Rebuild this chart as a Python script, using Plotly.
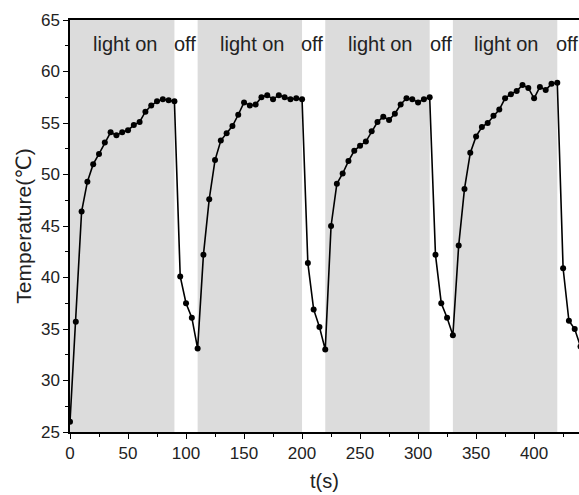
import plotly.graph_objects as go

# time (s) and temperature (°C)
t = [0, 5, 10, 15, 20, 25, 30, 35, 40, 45, 50, 55, 60, 65, 70, 75, 80, 85, 90,
     95, 100, 105, 110,
     115, 120, 125, 130, 135, 140, 145, 150, 155, 160, 165, 170, 175, 180, 185, 190, 195, 200,
     205, 210, 215, 220,
     225, 230, 235, 240, 245, 250, 255, 260, 265, 270, 275, 280, 285, 290, 295, 300, 305, 310,
     315, 320, 325, 330,
     335, 340, 345, 350, 355, 360, 365, 370, 375, 380, 385, 390, 395, 400, 405, 410, 415, 420,
     425, 430, 435, 440]
temp = [26.0, 35.7, 46.4, 49.3, 51.0, 52.0, 53.1, 54.1, 53.8, 54.1, 54.3, 54.8, 55.1, 56.1, 56.7, 57.1, 57.3, 57.2, 57.1,
        40.1, 37.5, 36.1, 33.1,
        42.2, 47.6, 51.4, 53.3, 54.0, 54.7, 55.8, 57.0, 56.7, 56.8, 57.5, 57.7, 57.3, 57.7, 57.5, 57.3, 57.4, 57.3,
        41.4, 36.9, 35.2, 33.0,
        45.0, 49.1, 50.1, 51.3, 52.3, 52.8, 53.2, 54.2, 55.1, 55.6, 55.3, 55.9, 56.8, 57.4, 57.3, 57.0, 57.3, 57.5,
        42.2, 37.5, 36.1, 34.4,
        43.1, 48.6, 52.1, 53.7, 54.6, 55.0, 55.7, 56.3, 57.4, 57.8, 58.1, 58.7, 58.4, 57.4, 58.5, 58.2, 58.8, 58.9,
        40.9, 35.8, 35.0, 33.3]

light_on_start = [0, 110, 220, 330]
light_on_end = [90, 200, 310, 420]
on_label_x = [48, 157, 268, 376]
off_label_x = [99, 209, 320, 428.3]

fig = go.Figure()

for s, e in zip(light_on_start, light_on_end):
    fig.add_shape(type="rect", xref="x", yref="y", x0=s, x1=e, y0=25, y1=65,
                  fillcolor="#dcdcdc", line_width=0, layer="below")

fig.add_trace(go.Scatter(x=t, y=temp, mode="lines+markers",
                         line=dict(color="black", width=1.6),
                         marker=dict(color="black", size=6),
                         showlegend=False))

for xl in on_label_x:
    fig.add_annotation(x=xl, y=62.7, text="light on", showarrow=False,
                       font=dict(size=20, color="#222"), xanchor="center", yanchor="middle")
for xl in off_label_x:
    fig.add_annotation(x=xl, y=62.7, text="off", showarrow=False,
                       font=dict(size=20, color="#222"), xanchor="center", yanchor="middle")

fig.update_layout(
    width=579, height=495,
    margin=dict(l=70, r=0, t=20, b=63, autoexpand=False),
    paper_bgcolor="white", plot_bgcolor="white",
    font=dict(family="Arial, Liberation Sans, DejaVu Sans", color="#222", size=17),
    xaxis=dict(range=[0, 438.7], tickmode="array", tickvals=[0, 50, 100, 150, 200, 250, 300, 350, 400],
               ticks="outside", ticklen=5, tickwidth=1.2, tickcolor="black",
               minor=dict(tickvals=[25, 75, 125, 175, 225, 275, 325, 375, 425], ticks="outside",
                          ticklen=3, tickcolor="black", tickwidth=1.2),
               showline=True, linecolor="black", linewidth=1.5, mirror=True,
               showgrid=False, zeroline=False, automargin=False,
               title=dict(text="t(s)", font=dict(size=20), standoff=12),
               tickfont=dict(size=17)),
    yaxis=dict(range=[25, 65], tickmode="array", tickvals=[25, 30, 35, 40, 45, 50, 55, 60, 65],
               ticks="outside", ticklen=5, tickwidth=1.2, tickcolor="black",
               minor=dict(tickvals=[27.5, 32.5, 37.5, 42.5, 47.5, 52.5, 57.5, 62.5], ticks="outside",
                          ticklen=3, tickcolor="black", tickwidth=1.2),
               showline=True, linecolor="black", linewidth=1.5,
               showgrid=False, zeroline=False, automargin=False,
               title=dict(text="Temperature(℃)", font=dict(size=21), standoff=4),
               tickfont=dict(size=17)),
)

fig.write_html("out.html", config={"displayModeBar": False},
               post_script="document.body.style.margin='0';document.body.style.overflow='hidden';")
